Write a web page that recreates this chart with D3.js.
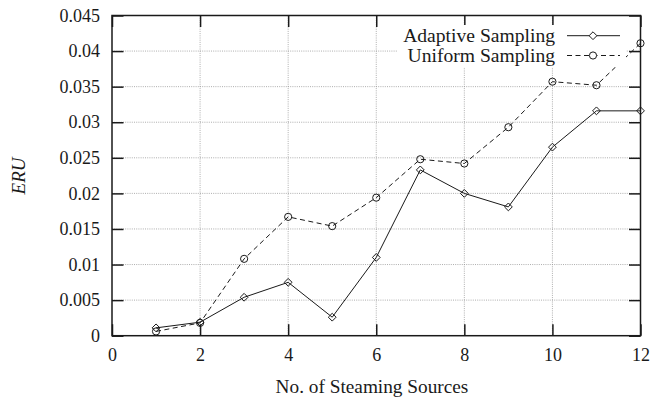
<!DOCTYPE html>
<html><head><meta charset="utf-8">
<script src="https://cdn.jsdelivr.net/npm/d3@7"></script>
</head><body style="margin:0"><svg id="c" width="651" height="400" font-family="'Liberation Serif', 'Times New Roman', serif"></svg>
<script>
const xVals = [1,2,3,4,5,6,7,8,9,10,11,12];
const adaptive = [0.0011,0.0019,0.0054,0.0075,0.0026,0.011,0.0233,0.0200,0.0181,0.0265,0.0316,0.0316];
const uniform  = [0.0006,0.0018,0.0108,0.0167,0.0154,0.0194,0.0248,0.0242,0.0293,0.0357,0.0352,0.0411];
const xTicks = [0,2,4,6,8,10,12];
const yTicks = [0,0.005,0.01,0.015,0.02,0.025,0.03,0.035,0.04,0.045];
const yTickLabels = ["0","0.005","0.01","0.015","0.02","0.025","0.03","0.035","0.04","0.045"];
const seriesNames = ["Adaptive Sampling","Uniform Sampling"];

const FF="'Liberation Serif', 'Times New Roman', serif";
const INK="#1a1a1a";
const L=112, R=640.5, T=15.5, B=335.7;
const svg=d3.select("#c");
const x=d3.scaleLinear().domain([0,12]).range([L,R]);
const y=d3.scaleLinear().domain([0,0.045]).range([B,T]);

// grid
const g=svg.append("g");
g.selectAll("line.gx").data(xTicks.slice(1,-1)).join("line")
 .attr("x1",d=>x(d)).attr("x2",d=>x(d)).attr("y1",T).attr("y2",B)
 .attr("stroke","#999").attr("stroke-width",0.8).attr("stroke-dasharray","1,1.2");
g.selectAll("line.gy").data(yTicks.slice(1,-1)).join("line")
 .attr("y1",d=>y(d)).attr("y2",d=>y(d)).attr("x1",L).attr("x2",R)
 .attr("stroke","#999").attr("stroke-width",0.8).attr("stroke-dasharray","1,1.2");

// axes with inward ticks
const tk=11.5;
const xb=svg.append("g").attr("transform",`translate(0,${B})`)
 .call(d3.axisBottom(x).tickValues(xTicks).tickSize(-tk).tickPadding(12.5).tickFormat(d3.format("d")));
const xt=svg.append("g").attr("transform",`translate(0,${T})`)
 .call(d3.axisTop(x).tickValues(xTicks).tickSize(-tk).tickFormat(""));
const yl=svg.append("g").attr("transform",`translate(${L},0)`)
 .call(d3.axisLeft(y).tickValues(yTicks).tickSize(-tk).tickPadding(12).tickFormat((d,i)=>yTickLabels[i]));
const yr=svg.append("g").attr("transform",`translate(${R},0)`)
 .call(d3.axisRight(y).tickValues(yTicks).tickSize(-tk).tickFormat(""));
[xb,xt,yl,yr].forEach(a=>{a.attr("font-family",FF).attr("font-size",18);
 a.select(".domain").remove();a.selectAll("line").attr("stroke",INK).attr("stroke-width",1.5);
 a.selectAll("text").attr("font-family",FF).style("font-family",FF).style("font-size","18px").attr("fill",INK);});
xb.selectAll("text").attr("dy","0.71em");

svg.append("rect").attr("x",L).attr("y",T).attr("width",R-L).attr("height",B-T)
 .attr("fill","none").attr("stroke",INK).attr("stroke-width",1.5);

const line=d3.line().x((d,i)=>x(xVals[i])).y(d=>y(d));
svg.append("path").datum(uniform).attr("d",line).attr("fill","none").attr("stroke",INK).attr("stroke-width",1).attr("stroke-dasharray","5,3.5");
svg.append("path").datum(adaptive).attr("d",line).attr("fill","none").attr("stroke",INK).attr("stroke-width",1);

const dh=3.9;
const diamond=(cx,cy)=>`M${cx},${cy-dh}L${cx+dh},${cy}L${cx},${cy+dh}L${cx-dh},${cy}Z`;
svg.selectAll("path.dm").data(adaptive).join("path").attr("class","dm")
 .attr("d",(d,i)=>diamond(x(xVals[i]),y(d))).attr("fill","none").attr("stroke",INK).attr("stroke-width",1);
svg.selectAll("circle.cm").data(uniform).join("circle").attr("class","cm")
 .attr("cx",(d,i)=>x(xVals[i])).attr("cy",d=>y(d)).attr("r",3.6).attr("fill","none").attr("stroke",INK).attr("stroke-width",1);

// legend
const lx1=567, lx2=620, lm=593;
const ly=[35.7,55.5];
svg.append("rect").attr("x",398).attr("y",25).attr("width",228).attr("height",42).attr("fill","#fff");
seriesNames.forEach((n,i)=>{
 svg.append("text").attr("x",555).attr("y",ly[i]+6).attr("text-anchor","end").attr("font-family",FF)
  .style("font-family",FF).style("font-size","19.6px").attr("fill",INK).text(n);
 svg.append("line").attr("x1",lx1).attr("x2",lx2).attr("y1",ly[i]).attr("y2",ly[i]).attr("stroke",INK).attr("stroke-width",1)
  .attr("stroke-dasharray",i?"5,3.5":null);
 if(i==0) svg.append("path").attr("d",diamond(lm,ly[i])).attr("fill","#fff").attr("stroke",INK);
 else svg.append("circle").attr("cx",lm).attr("cy",ly[i]).attr("r",3.6).attr("fill","#fff").attr("stroke",INK);
});

svg.append("text").attr("x",372).attr("y",393).attr("text-anchor","middle").attr("font-family",FF)
 .style("font-family",FF).style("font-size","19.3px").attr("fill",INK).text("No. of Steaming Sources");
svg.append("text").attr("transform","translate(25,176) rotate(-90)").attr("text-anchor","middle").attr("font-family",FF)
 .style("font-family",FF).style("font-size","19px").style("font-style","italic").attr("fill",INK).text("ERU");
</script></body></html>
